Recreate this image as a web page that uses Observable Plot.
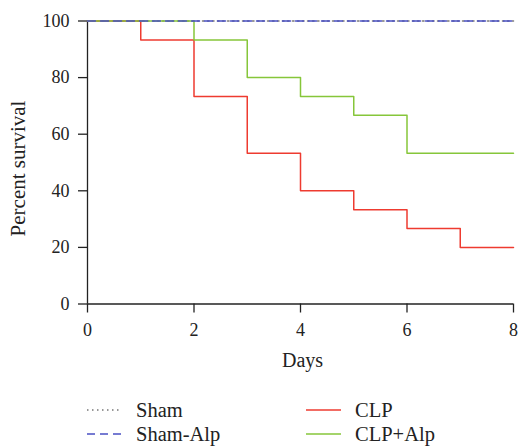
<!DOCTYPE html>
<html><head><meta charset="utf-8">
<script src="https://cdn.jsdelivr.net/npm/d3@7"></script>
<script src="https://cdn.jsdelivr.net/npm/@observablehq/plot@0.6"></script>
<style>
body{margin:0;background:#fff;font-family:"Liberation Serif",serif;}
#wrap{position:relative;width:518px;height:447px;}
#wrap svg text{font-family:"Liberation Serif",serif;}
.leg{position:absolute;font-size:20.5px;color:#222;display:flex;align-items:center;line-height:24px;}
.leg svg{margin-right:14px;}
</style></head>
<body><div id="wrap"></div>
<script>
const days = [0,1,2,3,4,5,6,7,8];
const sham    = [100,100,100,100,100,100,100,100,100];
const shamAlp = [100,100,100,100,100,100,100,100,100];
const clp     = [100,93.3,73.3,53.3,40,33.3,26.7,20,20];
const clpAlp  = [100,100,93.3,80,73.3,66.7,53.3,53.3,53.3];
const xTicks = [0,2,4,6,8];
const yTicks = [0,20,40,60,80,100];
const series = [
  {name:"Sham", values:sham, color:"#777", dash:"1.5,3.5"},
  {name:"Sham-Alp", values:shamAlp, color:"#4a50c4", dash:"8,5"},
  {name:"CLP", values:clp, color:"#ee3b30", dash:null},
  {name:"CLP+Alp", values:clpAlp, color:"#86c63a", dash:null}
];
const rows = s => days.map((d,i)=>({day:d, v:s.values[i]}));
const drawOrder = [series[0], series[2], series[3], series[1]];
const ff = "Liberation Serif, serif";

const plot = Plot.plot({
  width:518, height:380,
  marginLeft:87, marginRight:5, marginTop:20.5, marginBottom:76.5,
  style:{fontFamily:ff, fontSize:"18px", color:"#222", background:"#fff"},
  x:{domain:[0,8]},
  y:{domain:[0,100]},
  marks:[
    Plot.axisY({ticks:yTicks, tickSize:9, tickPadding:9, label:null, strokeWidth:1.3, fontSize:18, fontFamily:ff}),
    Plot.axisX({ticks:xTicks, tickSize:9, tickPadding:10, label:null, strokeWidth:1.3, fontSize:18, fontFamily:ff}),
    Plot.text(["Percent survival"], {frameAnchor:"left", rotate:-90, dx:-69.5, dy:6, lineAnchor:"middle", textAnchor:"middle", fontSize:21, fontFamily:ff, fill:"#222"}),
    Plot.text(["Days"], {frameAnchor:"bottom", dy:56.5, dx:2, lineAnchor:"middle", textAnchor:"middle", fontSize:20, fontFamily:ff, fill:"#222"}),
    Plot.ruleX([0], {stroke:"#222", strokeWidth:1.3}),
    Plot.ruleY([0], {stroke:"#222", strokeWidth:1.3}),
    ...drawOrder.map(s => Plot.line(rows(s), {x:"day", y:"v", curve:"step-after", stroke:s.color, strokeWidth:1.5, strokeDasharray:s.dash}))
  ]
});
const wrap = document.getElementById("wrap");
wrap.appendChild(plot);

const legPos = [
  {left:87, top:398}, {left:87, top:422}, {left:306, top:398}, {left:306, top:422}
];
series.forEach((s,i)=>{
  const d = document.createElement("div");
  d.className="leg";
  d.style.left = legPos[i].left+"px";
  d.style.top = legPos[i].top+"px";
  d.style.height = "24px";
  d.innerHTML = `<svg width="35" height="4"><line x1="0" x2="35" y1="2" y2="2" stroke="${s.color}" stroke-width="1.5" ${s.dash?`stroke-dasharray="${s.dash}"`:""}/></svg><span>${s.name}</span>`;
  wrap.appendChild(d);
});
</script></body></html>
